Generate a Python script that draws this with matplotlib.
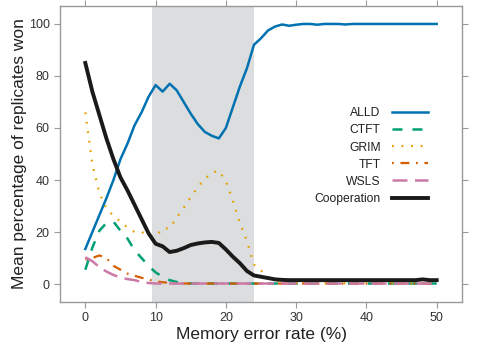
import numpy as np
import matplotlib
matplotlib.use("Agg")
import matplotlib.pyplot as plt

plt.rcParams['font.family'] = ['Liberation Sans', 'DejaVu Sans']

# memory error rate (%)
error_rate = list(range(0, 51))

alld = [13.5, 20, 26.5, 33, 40, 48, 54, 61, 66, 72,
        76.5, 74, 77, 74.5, 70, 65.5, 61.5, 58.5, 57, 56,
        60, 68, 76, 83, 92, 94.5, 97.5, 99, 99.8, 99.3,
        99.7, 100, 100, 99.7, 100, 100, 100, 99.8, 100, 100,
        100, 100, 100, 100, 100, 100, 100, 100, 100, 100, 100]
ctft = [5.5, 14, 20.5, 23.5, 24, 20.5, 17.5, 13, 10, 7,
        4.5, 2.8, 1.5, 0.8, 0.4, 0.2, 0.2, 0.2, 0.2, 0.2,
        0.2, 0.2, 0.2, 0.2, 0.2, 0.2, 0.2, 0.2, 0.2, 0.2,
        0.2, 0.2, 0.2, 0.2, 0.2, 0.2, 0.2, 0.2, 0.2, 0.2,
        0.2, 0.2, 0.2, 0.2, 0.2, 0.2, 0.2, 0.2, 0.2, 0.2, 0.2]
grim = [66, 46, 35, 29, 26.3, 24, 21.7, 20, 20.1, 18.5,
        18.3, 21.4, 21.4, 25.5, 29.3, 33.5, 37.2, 40.4, 42.8, 43.6,
        39.5, 32, 23.5, 16.5, 7.5, 5.2, 2.8, 1.5, 0.8, 0.5,
        0.4, 0.3, 0.3, 0.3, 0.3, 0.3, 0.3, 0.3, 0.3, 0.3,
        0.3, 0.3, 0.3, 0.3, 0.3, 0.3, 0.3, 0.3, 0.3, 0.3, 0.3]
tft = [9.5, 10, 11, 10, 7, 5.5, 4, 3.2, 2.4, 1.7,
       1, 0.7, 0.4, 0.2, 0.2, 0.2, 0.2, 0.2, 0.2, 0.2,
       0.2, 0.2, 0.2, 0.2, 0.2, 0.2, 0.2, 0.2, 0.2, 0.2,
       0.2, 0.2, 0.2, 0.2, 0.2, 0.2, 0.2, 0.2, 0.2, 0.2,
       0.2, 0.2, 0.2, 0.2, 0.2, 0.2, 0.2, 0.2, 0.2, 0.2, 0.2]
wsls = [10.3, 8.8, 6.5, 4.8, 3.5, 2.5, 1.9, 1.5, 0.8, 0.4,
        0.2, 0.2, 0.2, 0.2, 0.2, 0.2, 0.2, 0.2, 0.2, 0.2,
        0.2, 0.2, 0.2, 0.2, 0.2, 0.2, 0.2, 0.2, 0.2, 0.2,
        0.2, 0.2, 0.2, 0.2, 0.2, 0.2, 0.2, 0.2, 0.2, 0.2,
        0.2, 0.2, 0.2, 0.2, 0.2, 0.2, 0.2, 0.2, 0.2, 0.2, 0.2]
cooperation = [85, 74, 65, 56, 48, 41, 36, 30.5, 25, 19.5,
               15.5, 14.5, 12.3, 12.8, 13.8, 15, 15.6, 16, 16.2, 15.8,
               13.3, 10.5, 8, 5, 3.3, 2.8, 2.3, 1.8, 1.6, 1.5,
               1.5, 1.5, 1.5, 1.5, 1.5, 1.5, 1.5, 1.5, 1.5, 1.5,
               1.5, 1.5, 1.5, 1.5, 1.5, 1.5, 1.5, 1.5, 1.8, 1.5, 1.5]

shade_range = (9.5, 24)
xticks = [0, 10, 20, 30, 40, 50]
yticks = [0, 20, 40, 60, 80, 100]

fig = plt.figure(figsize=(4.92, 3.53), dpi=100)
ax = fig.add_axes([0.122, 0.1445, 0.817, 0.8385])

ax.axvspan(shade_range[0], shade_range[1], color="#dcddde", lw=0, zorder=0)

ax.plot(error_rate, alld, color="#0072B2", lw=1.8, label="ALLD")
ax.plot(error_rate, ctft, color="#009E73", lw=1.8, ls=(0, (4, 4)), label="CTFT")
ax.plot(error_rate, grim, color="#E69F00", lw=1.6, ls=(0, (0.8, 3.5)), label="GRIM")
ax.plot(error_rate, tft, color="#D55E00", lw=1.6, ls=(0, (0.8, 3, 4, 3)), label="TFT")
ax.plot(error_rate, wsls, color="#CC79A7", lw=1.8, ls=(0, (6, 3)), label="WSLS")
ax.plot(error_rate, cooperation, color="#1a1a1a", lw=2.8, label="Cooperation")

ax.set_xlim(-3.6, 53.6)
ax.set_ylim(-6.9, 106.9)
ax.set_xticks(xticks)
ax.set_yticks(yticks)

for s in ax.spines.values():
    s.set_color("#999999")
    s.set_linewidth(1)
ax.tick_params(direction="out", length=4, width=0.8, color="#999999",
               labelsize=9, labelcolor="#333333",
               top=True, right=True, labeltop=False, labelright=False)

ax.set_xlabel("Memory error rate (%)", fontsize=12.5, color="#222222", labelpad=2)
ax.set_ylabel("Mean percentage of replicates won", fontsize=12.5, color="#222222",
              labelpad=1)

leg = ax.legend(loc="center right", bbox_to_anchor=(0.93, 0.493), frameon=False,
                markerfirst=False, fontsize=8.7, handlelength=3.0,
                labelspacing=0.42, borderpad=0, handletextpad=0.9)
for t in leg.get_texts():
    t.set_color("#222222")

fig.savefig("out.png", dpi=100)
